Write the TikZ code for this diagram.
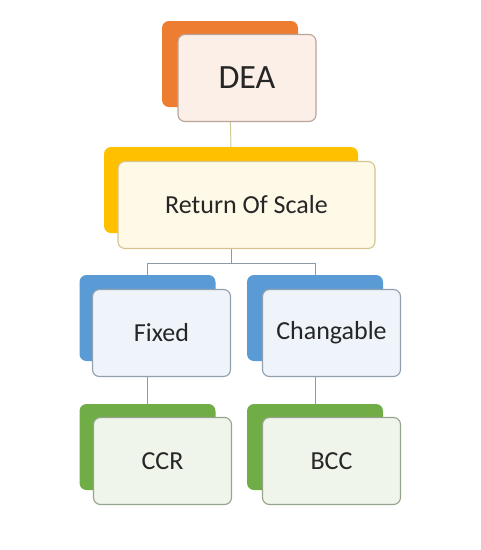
\documentclass[tikz,border=0pt]{standalone}
\usepackage{fontspec}
\setmainfont{Carlito}
\usetikzlibrary{positioning,backgrounds,calc}
\definecolor{Orange}{HTML}{ED7D31}
\definecolor{Gold}{HTML}{FFC000}
\definecolor{Blue}{HTML}{5B9BD5}
\definecolor{Green}{HTML}{70AD47}
\definecolor{SoftOrange}{HTML}{FCEFE8}
\definecolor{SoftGold}{HTML}{FFF9E8}
\definecolor{SoftBlue}{HTML}{EFF4FA}
\definecolor{SoftGreen}{HTML}{F0F5EC}
\definecolor{Link}{HTML}{8C99A8}
\definecolor{GoldLink}{HTML}{CFCB98}

\begin{document}
\begin{tikzpicture}[
  x=1pt,y=-1pt,
  back/.style={rectangle,rounded corners=7pt,inner sep=0pt,minimum width=136pt,minimum height=86pt},
  front/.style={rectangle,rounded corners=7pt,inner sep=0pt,line width=1.1pt,minimum width=138pt,minimum height=87pt,font=\fontsize{26}{30}\selectfont,text=black!85},
  link/.style={draw=Link,line width=1pt}
]
\useasboundingbox (0,0) rectangle (481,550);
\node[back,fill=Orange] (deab) at (230,64) {};
\node[front,draw=Orange!25!gray!70,fill=SoftOrange,font=\fontsize{34}{38}\selectfont] (dea) at (247,78) {DEA};
\node[back,fill=Gold,minimum width=254pt] (rosb) at (231,190) {};
\node[front,draw=Gold!45!gray!60,fill=SoftGold,minimum width=257pt,font=\fontsize{26}{30}\selectfont] (ros) at (246.5,205) {Return Of Scale};
\node[back,fill=Blue] (fixb) at (147.5,318) {};
\node[front,draw=Blue!30!gray!80,fill=SoftBlue] (fix) at (161.5,333) {Fixed};
\node[back,fill=Blue] (chgb) at (315,318) {};
\node[front,draw=Blue!30!gray!80,fill=SoftBlue] (chg) at (331.5,333) {Changable};
\node[back,fill=Green] (ccrb) at (147.5,447) {};
\node[front,draw=Green!30!gray!80,fill=SoftGreen] (ccr) at (162.5,461) {CCR};
\node[back,fill=Green] (bccb) at (315,447) {};
\node[front,draw=Green!30!gray!80,fill=SoftGreen] (bcc) at (331.5,461) {BCC};
\coordinate (split) at (231,263);
\begin{scope}[on background layer]
  \draw[link,draw=GoldLink] (deab.south) -- (rosb.north);
  \draw[link] (rosb.south) -- (split) -| (fixb.north);
  \draw[link] (split) -| (chgb.north);
  \draw[link] (fixb.south) -- (ccrb.north);
  \draw[link] (chgb.south) -- (bccb.north);
\end{scope}
\end{tikzpicture}
\end{document}
